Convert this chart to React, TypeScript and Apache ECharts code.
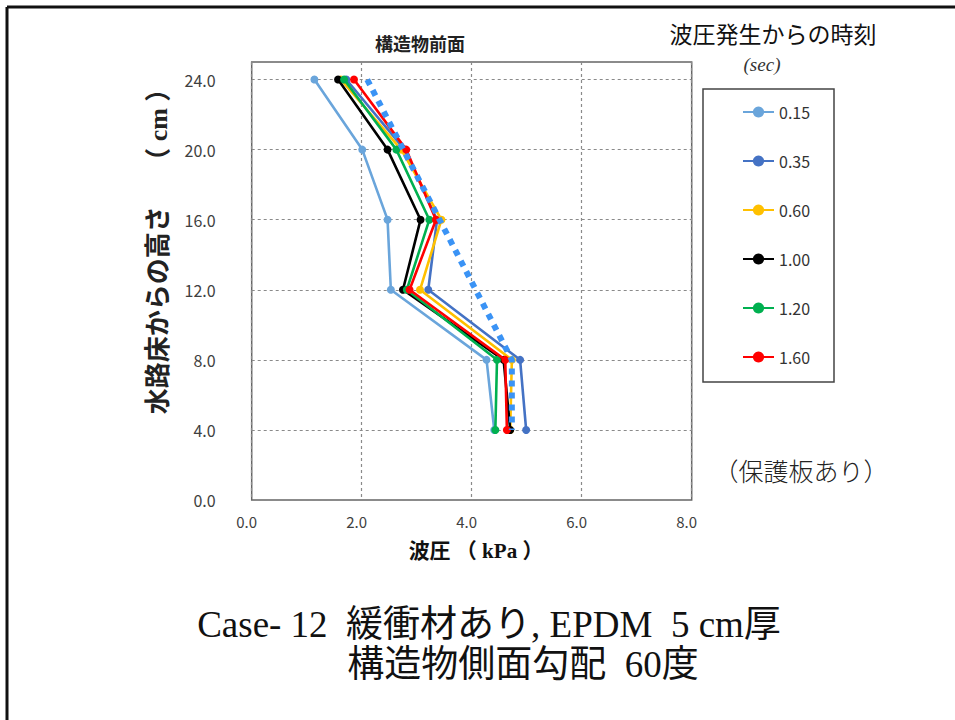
import React, { useEffect, useRef } from "react";
import * as echarts from "echarts";

const heights = [24, 20, 16, 12, 8, 4];
const timeLabels = ["0.15", "0.35", "0.60", "1.00", "1.20", "1.60"];
const seriesColors = ["#6AA5DB", "#4472C4", "#FFC000", "#000000", "#00B050", "#FF0000"];
const p015 = [1.14, 2.01, 2.47, 2.53, 4.27, 4.41];
const p035 = [1.72, 2.78, 3.37, 3.21, 4.88, 4.99];
const p060 = [1.62, 2.72, 3.45, 3.06, 4.73, 4.70];
const p100 = [1.57, 2.47, 3.07, 2.75, 4.58, 4.70];
const p120 = [1.68, 2.63, 3.23, 2.82, 4.46, 4.43];
const p160 = [1.86, 2.81, 3.35, 2.87, 4.61, 4.64];
const pressureSets = [p015, p035, p060, p100, p120, p160];
const envelopeX = [2.1, 4.73, 4.73];
const envelopeY = [24, 8, 4];

const JP = "'Noto Sans CJK JP', sans-serif";
const SERIF_JP = "'Liberation Serif', 'Noto Sans CJK JP', serif";

export default function App() {
  const ref = useRef<HTMLDivElement>(null);
  useEffect(() => {
    if (!ref.current) return;
    const chart = echarts.init(ref.current, undefined, { renderer: "svg" });
    const lineSeries = pressureSets.map((vals, i) => ({
      name: timeLabels[i],
      type: "line",
      data: heights.map((h, j) => [vals[j], h]),
      symbol: "circle",
      symbolSize: 8,
      lineStyle: { color: seriesColors[i], width: 2.6 },
      itemStyle: { color: seriesColors[i] },
      z: 2 + i,
    }));
    const envelope = {
      name: "envelope",
      type: "line",
      data: envelopeX.map((x, j) => [x, envelopeY[j]]),
      symbol: "none",
      lineStyle: { color: "#3A93F5", width: 6, type: [6, 6], cap: "butt" },
      z: 10,
    };
    chart.setOption({
      animation: false,
      backgroundColor: "#ffffff",
      grid: {
        left: 251.7,
        right: 263.3,
        top: 62,
        bottom: 220,
        show: true,
        borderColor: "#666666",
        borderWidth: 1.5,
        backgroundColor: "transparent",
      },
      xAxis: {
        type: "value",
        min: 0,
        max: 8,
        interval: 2,
        axisLine: { show: false },
        axisTick: { show: false },
        axisLabel: {
          fontSize: 15,
          color: "#404040",
          fontFamily: JP,
          margin: 14,
          padding: [0, 10, 0, 0],
          formatter: (v: number) => v.toFixed(1),
        },
        splitLine: { show: true, lineStyle: { color: "#8a8a8a", type: [3, 3], width: 1.2 } },
      },
      yAxis: {
        type: "value",
        min: 0,
        max: 25,
        interval: 4,
        axisLine: { show: false },
        axisTick: { show: false },
        axisLabel: {
          fontSize: 16,
          color: "#404040",
          fontFamily: JP,
          margin: 36,
          formatter: (v: number) => (v % 4 === 0 ? v.toFixed(1) : ""),
        },
        splitLine: { show: true, lineStyle: { color: "#8a8a8a", type: [3, 3], width: 1.2 } },
      },
      legend: {
        data: timeLabels,
        orient: "vertical",
        left: 737,
        top: 99,
        itemWidth: 31,
        itemHeight: 14,
        itemGap: 33,
        textStyle: { fontSize: 16, color: "#333333", fontFamily: JP, lineHeight: 14 },
      },
      graphic: [
        { type: "line", shape: { x1: 7, y1: 7, x2: 955, y2: 7 }, style: { stroke: "#111111", lineWidth: 3 } },
        { type: "line", shape: { x1: 7, y1: 7, x2: 7, y2: 720 }, style: { stroke: "#111111", lineWidth: 3 } },
        {
          type: "rect",
          shape: { x: 703, y: 89, width: 131, height: 293 },
          style: { fill: "transparent", stroke: "#444444", lineWidth: 1.5 },
        },
        {
          type: "text",
          x: 420,
          y: 43,
          style: { text: "構造物前面", fontSize: 18, fontWeight: "bold", fontFamily: JP, fill: "#222", align: "center", verticalAlign: "middle" },
        },
        {
          type: "text",
          x: 773,
          y: 33,
          style: { text: "波圧発生からの時刻", fontSize: 23, fontFamily: JP, fill: "#111", align: "center", verticalAlign: "middle" },
        },
        {
          type: "text",
          x: 762,
          y: 64,
          style: { text: "(sec)", fontSize: 19, fontStyle: "italic", fontFamily: "'Liberation Serif', serif", fill: "#333", align: "center", verticalAlign: "middle" },
        },
        {
          type: "text",
          x: 158,
          y: 245,
          rotation: Math.PI / 2,
          style: { text: "水路床からの高さ　 （ cm ）", fontSize: 26, fontWeight: "bold", fontFamily: SERIF_JP, fill: "#222", align: "center", verticalAlign: "middle" },
        },
        {
          type: "text",
          x: 476,
          y: 551,
          style: { text: "波圧 （ kPa ）", fontSize: 21, fontWeight: "bold", fontFamily: SERIF_JP, fill: "#111", align: "center", verticalAlign: "middle" },
        },
        {
          type: "text",
          x: 801,
          y: 470,
          style: { text: "（保護板あり）", fontSize: 25, fontFamily: JP, fontWeight: 300, fill: "#222", align: "center", verticalAlign: "middle" },
        },
        {
          type: "text",
          x: 489,
          y: 624,
          style: { text: "Case- 12  緩衝材あり, EPDM  5 cm厚", fontSize: 37, fontFamily: SERIF_JP, fill: "#111", align: "center", verticalAlign: "middle" },
        },
        {
          type: "text",
          x: 523,
          y: 664,
          style: { text: "構造物側面勾配  60度", fontSize: 37, fontFamily: SERIF_JP, fill: "#111", align: "center", verticalAlign: "middle" },
        },
      ],
      series: [...lineSeries, envelope],
    });
    return () => chart.dispose();
  }, []);
  return (
    <div
      ref={ref}
      style={{ position: "fixed", left: 0, top: 0, width: 955, height: 720, background: "#fff" }}
    />
  );
}
